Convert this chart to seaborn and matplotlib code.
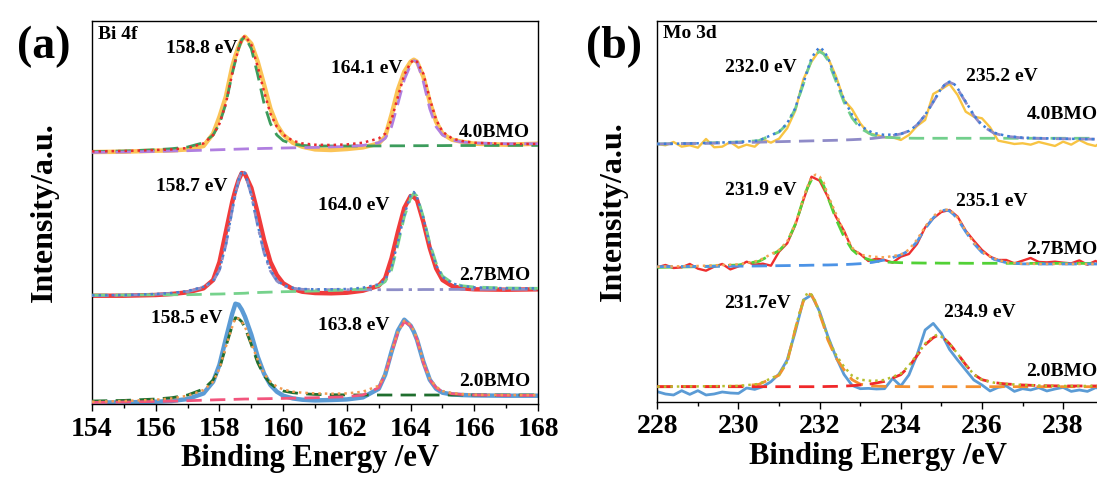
import matplotlib
matplotlib.use("Agg")
import matplotlib.pyplot as plt
from matplotlib.ticker import MultipleLocator
import pandas as pd
import seaborn as sns

# ---------------- Bi 4f (panel a) ----------------
energy_bi = [154, 155, 156, 156.5, 157, 157.5, 157.8, 158.0, 158.2, 158.4, 158.5, 158.6, 158.7,
             158.8, 159.0, 159.2, 159.4, 159.6, 159.8, 160.0, 160.3, 160.6, 161, 161.5, 162, 162.5,
             163, 163.2, 163.4, 163.6, 163.8, 164.0, 164.1, 164.2, 164.4, 164.6, 164.8, 165.0,
             165.3, 165.6, 166, 167, 168]

# 4.0BMO
bi40_raw = [-1.3, -1, 0, 0.3, 1.3, 4.7, 17, 34, 54, 84, 95, 104, 111, 114, 107, 89, 66, 42, 26, 16,
            8, 4, 1.3, 0.7, 1.7, 3.3, 7.3, 14, 36, 61, 79, 89, 91, 89, 74, 49, 29, 17, 11, 9, 7, 6, 7]
bi40_env = [-0.7, -0.3, 0.7, 1.3, 2.7, 7.3, 15.7, 27, 47, 77, 90, 102, 111, 115, 106, 84, 59, 37, 24,
            16, 10, 7.3, 6, 5.7, 6.3, 8, 12.3, 17, 31, 54, 76, 88, 91, 89, 77, 52, 31, 19, 12.3, 9.7,
            8, 6.7, 6.7]
bi40_p1 = [-1, -0.3, 1, 2, 3.7, 8, 15.7, 27, 47, 77, 90, 102, 111, 114, 102, 76, 47, 27, 15.7, 10,
           6.7, 5.3, 4.7, 4.7, 4.7, 4.8, 4.8, 4.8, 4.9, 4.9, 4.9, 5.0, 5.0, 5.0, 5.0, 5.1, 5.1, 5.1,
           5.2, 5.2, 5.2, 5.3, 5.3]
bi40_p2 = [-1.7, -1.3, -0.7, -0.3, 0, 0.5, 0.8, 1, 1.2, 1.4, 1.5, 1.6, 1.7, 1.8, 2, 2.1, 2.3, 2.4,
           2.6, 2.7, 2.9, 3.1, 3.3, 3.8, 4.3, 5.3, 8, 12.3, 24, 47, 71, 86, 90, 89, 69, 42, 24, 15.7,
           10.7, 8.7, 7.7, 7, 7]

# 2.7BMO
bi27_raw = [-0.7, -0.7, 0, 1, 2.7, 6.7, 15, 33, 63, 93, 105, 115, 122, 121, 107, 82, 55, 33, 20,
            11.7, 6, 3.3, 2, 1.7, 2.3, 4.3, 9.3, 16.7, 36.7, 63, 87, 99, 98, 95, 73, 47, 26.7, 15, 9,
            6.7, 5.7, 5.3, 5.7]
bi27_env = [-0.3, 0, 1, 2, 4, 8.3, 14, 25, 50, 85, 101, 115, 124, 122, 100, 70, 43, 25, 15, 10, 7.3,
            6, 5.7, 5.7, 6, 7.3, 10.7, 15, 28, 53, 80, 100, 103, 98, 77, 50, 30, 18, 11.7, 9, 7.7,
            6.7, 6.7]
bi27_p1 = [-0.7, -0.3, 0.7, 1.7, 3.3, 7.7, 13.7, 25, 50, 85, 101, 115, 124, 122, 100, 69, 42, 24,
           14, 9.3, 6.7, 5.7, 5.3, 5.3, 5.3, 5.3, 5.3, 5.3, 5.3, 5.3, 5.4, 5.4, 5.4, 5.4, 5.5, 5.5,
           5.5, 5.5, 5.6, 5.6, 5.7, 5.7, 5.7]
bi27_p2 = [0, 0, 0.2, 0.3, 0.3, 0.7, 0.9, 1, 1.2, 1.4, 1.5, 1.6, 1.7, 1.8, 2.3, 2.5, 2.7, 2.9, 3.1,
           3.3, 3.5, 3.7, 4, 4.5, 5, 6, 9.3, 13.3, 25, 50, 78, 97, 102, 99, 78, 52, 32, 19, 12.3,
           9.3, 8, 7, 6.7]

# 2.0BMO
bi20_raw = [-0.7, -0.7, 0, 0.7, 2.7, 8.3, 20, 37, 63, 88, 98, 97, 92, 85, 67, 45, 28, 16.7, 10, 6,
            3.3, 2, 1.3, 1.7, 2.3, 4.3, 13, 27, 50, 71, 82, 76, 70, 62, 40, 22, 13, 9, 7.3, 6.7,
            6.3, 6, 6]
bi20_env = [0, 0.7, 2, 3.3, 6, 11.7, 20, 33, 55, 75, 84, 83, 80, 75, 58, 42, 28, 20, 15, 12.3, 10,
            9, 8.3, 8, 8.3, 10, 16, 28, 50, 70, 81, 77, 71, 63, 40, 23, 15, 10.7, 8.7, 7.7, 7, 6.7,
            6.7]
bi20_p1 = [0.7, 1.3, 2.7, 4, 6.7, 12.7, 21.7, 33, 55, 76, 84, 83, 80, 74, 57, 39, 26, 18, 13.3,
           10.7, 9, 8, 7.3, 7, 6.8, 6.7, 6.7, 6.7, 6.7, 6.7, 6.7, 6.7, 6.7, 6.7, 6.7, 6.7, 6.7,
           6.7, 6.7, 6.7, 6.7, 6.7, 6.7]
bi20_p2 = [-0.7, -0.3, 0.3, 0.6, 1, 1.5, 1.8, 2, 2.1, 2.3, 2.4, 2.5, 2.6, 2.7, 2.7, 2.9, 3, 3.1,
           3.2, 3.3, 3.5, 3.7, 4, 4.5, 5, 6.7, 14, 27, 49, 69, 80, 76, 70, 62, 39, 22, 14, 10, 8,
           7.3, 6.7, 6.3, 6.3]

bi_offsets = [253.3, 109, 2.3]
bi_samples = ["4.0BMO", "2.7BMO", "2.0BMO"]
bi_peaks = [("158.8 eV", "164.1 eV"), ("158.7 eV", "164.0 eV"), ("158.5 eV", "163.8 eV")]

# ---------------- Mo 3d (panel b) ----------------
energy_mo_fit = [228, 229, 230, 230.5, 231, 231.2, 231.4, 231.5, 231.6, 231.7, 231.8, 231.9, 232.0,
                 232.1, 232.2, 232.4, 232.6, 232.8, 233.0, 233.3, 233.6, 234.0, 234.2, 234.4,
                 234.6, 234.8, 234.9, 235.0, 235.1, 235.2, 235.3, 235.4, 235.6, 235.8, 236.0,
                 236.3, 236.6, 237, 237.5, 238, 239]
energy_mo_raw = [228.0, 228.2, 228.4, 228.6, 228.8, 229.0, 229.2, 229.4, 229.6, 229.8,
                 230.0, 230.2, 230.4, 230.6, 230.8, 231.0, 231.2, 231.4, 231.6, 231.8,
                 232.0, 232.2, 232.4, 232.6, 232.8, 233.0, 233.2, 233.4, 233.6, 233.8,
                 234.0, 234.2, 234.4, 234.6, 234.8, 235.0, 235.2, 235.4, 235.6, 235.8,
                 236.0, 236.2, 236.4, 236.6, 236.8, 237.0, 237.2, 237.4, 237.6, 237.8,
                 238.0, 238.2, 238.4, 238.6, 238.8, 239.0]

# 4.0BMO
mo40_raw = [0, -1.3, 2, -2.7, -1.3, -3.7, 5, -3.3, -2.7, 2,
            -3.7, -0.7, -2.7, 4.7, 1.3, 5.3, 15.7, 33.3, 64.7, 82.3,
            94, 86.7, 68, 44, 34.7, 20.7, 10.7, 9, 6.7, 6.7,
            4, 9, 18, 24, 50, 54.7, 60, 49, 32.3, 27.3,
            25.7, 16.7, 3.3, 1.7, 0, 0.7, -0.7, 2, 0, -2,
            2.3, -0.7, 4, 0, -2, 3.3]
mo40_env = [0, 0.7, 2, 3.3, 12.3, 20.7, 35.7, 49, 60.7, 74, 85.7, 92.3, 96.7, 93.3, 86.7, 65.7,
            44.7, 29, 18, 11.3, 9, 10, 13, 19, 29, 42.3, 49, 55.7, 60, 62.3, 60.7, 55.7, 42.3, 29,
            19, 11.3, 8, 6.3, 5.7, 5.3, 4.7]
mo40_p1 = [0, 0.7, 2, 3.3, 12, 20, 35, 48, 60, 73, 84, 90, 92.3, 90, 84, 63, 42, 26, 15.7, 9, 6.7,
           6, 5.8, 5.7, 5.7, 5.7, 5.7, 5.7, 5.7, 5.7, 5.7, 5.7, 5.7, 5.7, 5.7, 5.7, 5.7, 5.7, 5.7,
           5.7, 5.7]
mo40_p2 = [0, 0.5, 1.3, 1.8, 2.3, 2.5, 2.7, 2.8, 2.9, 3, 3.1, 3.2, 3.3, 3.4, 3.5, 3.7, 4, 4.3, 4.7,
           5.5, 7, 10, 13, 19, 28.7, 42, 48.7, 55, 59.7, 61.7, 60, 55, 41.7, 28.3, 18.3, 10.7, 7.7,
           6, 5.5, 5.2, 4.7]

# 2.7BMO
mo27_raw = [-0.7, 1.7, -1.3, -0.7, 2.7, -2, -4, 0, 2.7, -2.7,
            0.3, 5, 2, 3, 1, 15, 23.3, 41.7, 66.7, 90,
            86, 70, 50, 36, 17.3, 12.7, 5.7, 8, 6.7, 4,
            10, 12.7, 22.7, 39.3, 48.3, 54.7, 56.7, 50, 36, 26,
            16.7, 10, 6.7, 6.7, 3.3, 6, 8.7, 4.7, 4.3, 5,
            4, 3.3, 6.3, 2, 5.7, 1.7]
mo27_env = [0, 0.7, 2.3, 6, 16.7, 25, 43, 55, 69, 80, 89, 92, 90, 84, 72, 53, 35, 19, 12, 10, 9.3,
            12, 17, 27, 40, 50, 54, 56, 57, 56.7, 53.3, 49, 36, 24, 15, 8, 4.3, 3, 2.7, 2.7, 2.7]
mo27_p1 = [-0.7, 0, 1.7, 5.3, 16, 24.5, 42.5, 54.5, 68, 79, 87, 90, 88, 81, 70, 48, 30, 17, 10, 6,
           4.7, 4, 3.8, 3.7, 3.6, 3.6, 3.6, 3.5, 3.5, 3.5, 3.5, 3.5, 3.4, 3.4, 3.4, 3.4, 3.4, 3.3,
           3.3, 3.3, 3.3]
mo27_p2 = [0, 0.2, 0.5, 0.7, 1, 1.1, 1.2, 1.3, 1.3, 1.4, 1.5, 1.5, 1.6, 1.7, 1.7, 1.9, 2.1, 2.5, 3,
           4.3, 6.7, 11.7, 16, 25, 38, 48.7, 53, 55.7, 56.7, 55.7, 52.3, 47.7, 35, 23.3, 14.3, 7.3,
           4, 2.8, 2.7, 2.7, 2.7]

# 2.0BMO
mo20_raw = [-5, -7.3, -8.3, -4, -7.7, -4, -8.3, -7.3, -5.3, -6.3,
            -6.7, -1.3, -2.7, 0, 5, 12.7, 26.7, 55, 86.7, 91.7,
            75, 50.7, 30, 12.3, 1.3, -2, -1.7, -2.3, -2, 8.3,
            0.7, 11.7, 31.7, 56.7, 63.3, 53.3, 37.3, 26.7, 16.7, 6.7,
            1.7, -4.3, -0.7, 0.7, -4.7, -2, -3.3, -1, -4.3, -2.3,
            -0.7, -4.7, -3.3, -4.7, -1, -2]
mo20_env = [0, 0.3, 0.7, 2.7, 12, 25, 58, 73, 86, 94, 92, 85, 74, 63, 49, 32, 20, 11, 7, 5.7, 6.7,
            13, 21, 32, 43, 50, 52, 50, 47, 43, 38, 33, 22, 12.3, 7, 4, 2.7, 1.7, 1, 0.7, 0.7]
mo20_p1 = [0, 0.2, 0.5, 2.3, 11.5, 24.5, 57.5, 72.5, 85.5, 93.3, 91.5, 84, 72.5, 61, 47, 29, 17, 7,
           2.5, 0.7, 0.3, 0.1, 0, 0, 0, 0, 0, 0, 0, 0, 0, 0, 0, 0, 0, 0, 0, 0, 0, 0, 0]
mo20_p2 = [0, 0, 0, 0, 0, 0, 0, 0, 0, 0, 0, 0, 0.1, 0.1, 0.2, 0.3, 0.6, 1, 1.7, 3, 5.3, 12, 20, 31,
           42, 49, 51, 49.7, 47, 43, 38, 33, 22, 12.3, 7, 4, 2.7, 1.7, 1, 0.7, 0.7]

mo_offsets = [258, 135.3, 15.3]
mo_samples = ["4.0BMO", "2.7BMO", "2.0BMO"]
mo_peaks = [("232.0 eV", "235.2 eV"), ("231.9 eV", "235.1 eV"), ("231.7eV", "234.9 eV")]

# ---------------- styling ----------------
sns.set_style("ticks")
plt.rcParams["font.family"] = ["Liberation Serif", "DejaVu Serif"]
plt.rcParams["font.weight"] = "bold"
plt.rcParams["axes.labelweight"] = "bold"
plt.rcParams["axes.linewidth"] = 1.0
plt.rcParams["axes.edgecolor"] = "black"
plt.rcParams["text.color"] = "black"
plt.rcParams["axes.labelcolor"] = "black"
plt.rcParams["xtick.color"] = "black"
plt.rcParams["xtick.labelcolor"] = "black"

DOT = (0, (1.0, 1.6))
DASH = (0, (5.5, 3.0))
DASHDOT = (0, (6.0, 2.0, 1.2, 2.0))


def draw(ax, energy, values, offset, color, lw, ls, z):
    frame = pd.DataFrame({"energy": energy, "intensity": [v + offset for v in values]})
    sns.lineplot(data=frame, x="energy", y="intensity", ax=ax, color=color, linewidth=lw,
                 sort=False, estimator=None, errorbar=None, legend=False, zorder=z)
    line = ax.lines[-1]
    line.set_linestyle(ls)
    line.set_solid_joinstyle("round")
    line.set_solid_capstyle("round")


def style_axis(ax, xmin, xmax, ymax, ylabel_x, xlabel_x):
    ax.set_xlim(xmin, xmax)
    ax.set_ylim(0, ymax)
    ax.set_yticks([])
    ax.xaxis.set_major_locator(MultipleLocator(2))
    ax.xaxis.set_minor_locator(MultipleLocator(1))
    ax.tick_params(axis="x", which="major", direction="out", length=5, width=1.0,
                   labelsize=20, pad=4, bottom=True, top=False, colors="black")
    ax.tick_params(axis="x", which="minor", direction="out", length=3, width=1.0,
                   bottom=True, top=False, colors="black")
    for lab in ax.get_xticklabels():
        lab.set_fontweight("bold")
    ax.set_xlabel("Binding Energy /eV", fontsize=22, fontweight="bold", labelpad=2, color="black")
    ax.xaxis.set_label_coords(xlabel_x, -0.105)
    ax.xaxis.label.set_verticalalignment("top")
    ax.set_ylabel("Intensity/a.u.", fontsize=23, fontweight="bold", color="black")
    ax.yaxis.set_label_coords(ylabel_x, 0.5)
    for side in ("left", "right", "top", "bottom"):
        ax.spines[side].set_visible(True)
        ax.spines[side].set_color("black")
        ax.spines[side].set_linewidth(1.0)


fig = plt.figure(figsize=(10.97, 4.82), dpi=100)
ax_a = fig.add_axes([0.0839, 0.1618, 0.4066, 0.7946])
# the Mo 3d frame runs right up to the figure's right edge
ax_b = fig.add_axes([0.5992, 0.1660, 0.4017, 0.7905])

# panel a curves: raw, components, envelope
bi_sets = [
    (bi40_raw, bi40_p1, bi40_p2, bi40_env,
     "#FBC457", "#3C9C5C", "#B07FE0", "#E8292D", DASH, DASH),
    (bi27_raw, bi27_p1, bi27_p2, bi27_env,
     "#F03B3B", "#8E8EC8", "#76D28C", "#4A7FD0", DASHDOT, DASH),
    (bi20_raw, bi20_p1, bi20_p2, bi20_env,
     "#5B9BD5", "#1F6E2E", "#F2557D", "#F29A50", DASH, DASH),
]
for (raw, p1, p2, env, c_raw, c_p1, c_p2, c_env, ls1, ls2), off in zip(bi_sets, bi_offsets):
    draw(ax_a, energy_bi, raw, off, c_raw, 3.2, "-", 2)
    draw(ax_a, energy_bi, p1, off, c_p1, 2.0, ls1, 3)
    draw(ax_a, energy_bi, p2, off, c_p2, 2.0, ls2, 3)
    draw(ax_a, energy_bi, env, off, c_env, 1.8, DOT, 4)

style_axis(ax_a, 154, 168, 383, -0.074, 0.488)

# panel b curves
mo_sets = [
    (mo40_raw, mo40_p1, mo40_p2, mo40_env, "#F8C443", "#72CF8C", "#8F8BC8", "#3D7DD8", 1.7),
    (mo27_raw, mo27_p1, mo27_p2, mo27_env, "#EE2E2E", "#52D136", "#4C93E6", "#F5A455", 1.7),
    (mo20_raw, mo20_p1, mo20_p2, mo20_env, "#5B9BD5", "#F4902F", "#F0282A", "#B5BE2E", 2.0),
]
for (raw, p1, p2, env, c_raw, c_p1, c_p2, c_env, lw_raw), off in zip(mo_sets, mo_offsets):
    draw(ax_b, energy_mo_raw, raw, off, c_raw, lw_raw, "-", 2)
    draw(ax_b, energy_mo_fit, p1, off, c_p1, 2.0, DASH, 3)
    draw(ax_b, energy_mo_fit, p2, off, c_p2, 2.0, DASH, 3)
    draw(ax_b, energy_mo_fit, env, off, c_env, 1.8, DOT, 4)

style_axis(ax_b, 228, 238.86, 381, -0.0675, 0.50)

# ---------------- annotations ----------------
txt = dict(fontsize=14, fontweight="bold", color="black", va="center")

ax_a.text(154.19, 370, "Bi 4f", ha="left", **txt)
bi_label_pos = [((158.58, 355.7), (163.76, 335.7), 271.3),
                ((158.24, 217.3), (163.35, 199.0), 129.0),
                ((158.08, 85.7), (163.35, 79.0), 22.3)]
for (pk1, pk2), ((x1, y1), (x2, y2), ys), name in zip(bi_peaks, bi_label_pos, bi_samples):
    ax_a.text(x1, y1, pk1, ha="right", **txt)
    ax_a.text(x2, y2, pk2, ha="right", **txt)
    ax_a.text(167.75, ys, name, ha="right", **txt)

ax_b.text(228.14, 368, "Mo 3d", ha="left", **txt)
mo_label_pos = [((231.43, 334.5, "right"), (235.6, 325.3, "left"), 287.0),
                ((231.43, 211.2, "right"), (235.36, 200.3, "left"), 152.7),
                ((231.29, 98.7, "right"), (235.06, 89.5, "left"), 30.3)]
for (pk1, pk2), ((x1, y1, h1), (x2, y2, h2), ys), name in zip(mo_peaks, mo_label_pos, mo_samples):
    ax_b.text(x1, y1, pk1, ha=h1, **txt)
    ax_b.text(x2, y2, pk2, ha=h2, **txt)
    ax_b.text(237.1, ys, name, ha="left", **txt)

fig.text(44 / 1097, 1 - 47 / 482, "(a)", fontsize=33, fontweight="bold", ha="center", va="center")
fig.text(614 / 1097, 1 - 47 / 482, "(b)", fontsize=33, fontweight="bold", ha="center", va="center")

fig.savefig("out.png", dpi=100)
